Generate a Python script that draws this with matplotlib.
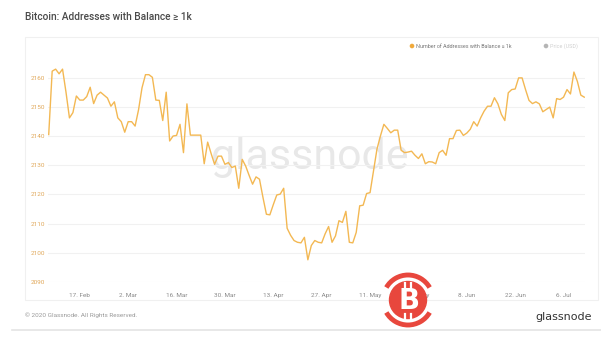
import numpy as np
import pandas as pd
import matplotlib
matplotlib.use("Agg")
import matplotlib.pyplot as plt
from matplotlib.patches import Circle, Arc, Rectangle

# daily count of addresses holding >= 1k BTC, 8 Feb 2020 .. 12 Jul 2020
start_date = "2020-02-08"
addresses = [
    2140.5, 2162.2, 2162.9, 2161.3, 2162.9, 2155.0, 2146.2, 2148.0, 2153.7,
    2152.3, 2152.3, 2153.5, 2156.7, 2151.1, 2154.0, 2155.0, 2154.0, 2153.0,
    2150.2, 2151.7, 2146.2, 2144.9, 2141.3, 2144.9, 2144.9, 2143.4, 2149.0,
    2156.5, 2161.0, 2161.0, 2160.1, 2152.3, 2152.2, 2145.3, 2155.0, 2138.3,
    2140.0, 2140.2, 2144.0, 2134.3, 2151.0, 2140.3, 2140.3, 2140.3, 2140.3,
    2130.5, 2137.9, 2134.0, 2130.3, 2133.1, 2133.1, 2130.3, 2130.9, 2129.2,
    2129.7, 2122.1, 2132.0, 2129.7, 2126.5, 2123.5, 2126.0, 2125.2, 2119.0,
    2113.2, 2113.0, 2116.5, 2119.8, 2120.1, 2122.1, 2108.4, 2106.0, 2104.2,
    2103.6, 2103.4, 2105.3, 2097.6, 2102.5, 2104.2, 2103.6, 2103.4, 2106.5,
    2109.0, 2103.6, 2105.8, 2111.0, 2110.4, 2114.2, 2103.6, 2103.4, 2107.0,
    2116.1, 2116.3, 2120.3, 2120.6, 2128.0, 2135.5, 2140.0, 2144.0, 2142.6,
    2141.1, 2142.0, 2142.0, 2135.1, 2134.3, 2134.5, 2134.8, 2133.4, 2132.3,
    2133.9, 2130.5, 2131.2, 2131.1, 2130.5, 2134.3, 2135.1, 2133.4, 2139.1,
    2139.1, 2141.9, 2142.0, 2140.2, 2141.0, 2142.3, 2144.9, 2143.4, 2146.2,
    2148.5, 2150.2, 2150.2, 2153.1, 2151.0, 2147.4, 2145.3, 2154.8, 2155.9,
    2156.1, 2159.9, 2159.9, 2155.9, 2152.2, 2151.1, 2151.7, 2151.0, 2148.3,
    2149.1, 2149.9, 2146.2, 2152.8, 2152.5, 2153.3, 2155.9, 2154.4, 2161.9,
    2158.7, 2154.0, 2153.3,
]
dates = pd.date_range(start_date, periods=len(addresses), freq="D")

tick_dates = pd.to_datetime(["2020-02-17", "2020-03-02", "2020-03-16", "2020-03-30",
                             "2020-04-13", "2020-04-27", "2020-05-11", "2020-05-25",
                             "2020-06-08", "2020-06-22", "2020-07-06"])
tick_labels = ["17. Feb", "2. Mar", "16. Mar", "30. Mar", "13. Apr", "27. Apr",
               "11. May", "25. May", "8. Jun", "22. Jun", "6. Jul"]
y_ticks = [2090, 2100, 2110, 2120, 2130, 2140, 2150, 2160]

W, H = 601, 340
fig = plt.figure(figsize=(W / 100, H / 100), dpi=100)
fig.patch.set_facecolor("white")

# overlay in pixel coordinates for card, texts and logo
bg = fig.add_axes([0, 0, 1, 1], zorder=0)
bg.set_xlim(0, W)
bg.set_ylim(H, 0)
bg.axis("off")
bg.add_patch(Rectangle((25, 37), 573, 263, fill=False, ec="#f0f0f0", lw=0.8))
bg.plot([12, 601], [330, 330], color="#e4e4e4", lw=1.2)
bg.text(25, 17, "Bitcoin: Addresses with Balance ≥ 1k", fontsize=7.3,
        family="Roboto", weight="medium", color="#4a4a4a", va="center")
bg.text(25, 315, "© 2020 Glassnode. All Rights Reserved.", fontsize=4.6,
        family="Roboto", color="#9a9a9a", va="center")
bg.text(592, 317, "glassnode", fontsize=8, family="DejaVu Sans",
        color="#333333", va="center", ha="right")
# watermark
bg.text(310, 158, "glassnode", fontsize=31, family="Roboto", color="#e8e8e8",
        va="center", ha="center", zorder=0)

# legend
bg.add_patch(Circle((412, 46), 1.6, color="#f0a93a"))
bg.text(416, 46, "Number of Addresses with Balance ≥ 1k", fontsize=3.9,
        family="Roboto", color="#777777", va="center")
bg.add_patch(Circle((546, 46), 1.6, color="#b5b5b5"))
bg.text(550, 46, "Price (USD)", fontsize=3.9, family="Roboto",
        color="#d0d0d0", va="center")

ax = fig.add_axes([48 / W, 1 - 282 / H, 537 / W, (282 - 63) / H], zorder=1)
ax.patch.set_alpha(0)
ax.plot(dates, addresses, color="#f3b853", lw=1.0, solid_joinstyle="round")
ax.set_xlim(dates[0] - pd.Timedelta(hours=5), dates[-1] + pd.Timedelta(hours=5))
ax.set_ylim(2090, 2165)
ax.set_yticks(y_ticks)
ax.set_yticklabels([str(v) for v in y_ticks])
ax.set_xticks(tick_dates)
ax.set_xticklabels(tick_labels)
ax.tick_params(axis="y", length=0, labelsize=4.6, labelcolor="#e0a85a", pad=2)
ax.tick_params(axis="x", length=0, labelsize=4.6, labelcolor="#8a8a8a", pad=8)
for lab in ax.get_xticklabels() + ax.get_yticklabels():
    lab.set_family("Roboto")
ax.grid(axis="y", color="#f1f1f1", lw=0.8)
ax.set_axisbelow(True)
for s in ax.spines.values():
    s.set_visible(False)

# bitcoin badge overlay (covers the 25. May label as in the source image)
top = fig.add_axes([0, 0, 1, 1], zorder=3)
top.set_xlim(0, W)
top.set_ylim(H, 0)
top.axis("off")
red = "#e8473d"
top.add_patch(Circle((408, 300), 18.5, color=red))
top.add_patch(Arc((408, 300), 50, 50, theta1=30, theta2=150, color=red, lw=3.5))
top.add_patch(Arc((408, 300), 50, 50, theta1=210, theta2=330, color=red, lw=3.5))
top.text(409, 301, "B", fontsize=20, weight="bold", color="white",
         ha="center", va="center", family="DejaVu Sans")
top.plot([405, 405], [283, 288], color="white", lw=1.6)
top.plot([411, 411], [283, 288], color="white", lw=1.6)
top.plot([405, 405], [314, 319], color="white", lw=1.6)
top.plot([411, 411], [314, 319], color="white", lw=1.6)

fig.savefig("out.png", dpi=100, facecolor="white")
